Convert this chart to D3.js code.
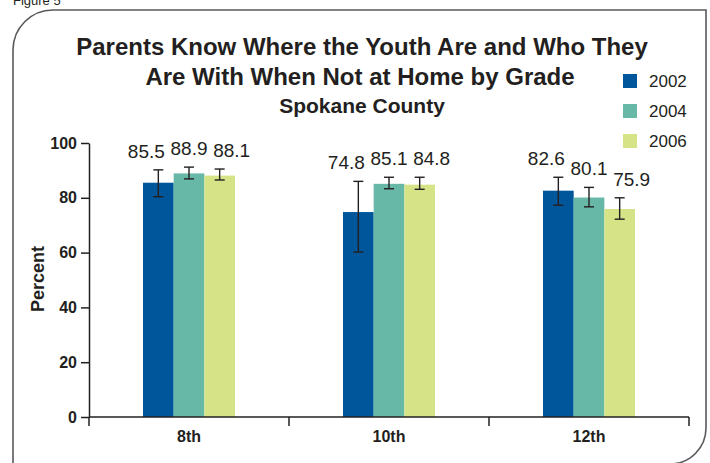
<!DOCTYPE html>
<html>
<head>
<meta charset="utf-8">
<script src="https://cdn.jsdelivr.net/npm/d3@7"></script>
<style>
  body { margin: 0; background: #fff; }
  text { font-family: "Liberation Sans", Arial, sans-serif; fill: #231f20; }
</style>
</head>
<body>
<div id="myChart"></div>
<script>
// data
var grades = ["8th", "10th", "12th"];
var years = ["2002", "2004", "2006"];
var values2002 = [85.5, 74.8, 82.6];
var values2004 = [88.9, 85.1, 80.1];
var values2006 = [88.1, 84.8, 75.9];
// error bar ends (low / high)
var low2002 = [80.4, 60.2, 77.3];
var high2002 = [90.2, 86.0, 87.5];
var low2004 = [86.9, 83.3, 76.7];
var high2004 = [91.2, 87.5, 83.8];
var low2006 = [86.5, 83.1, 72.2];
var high2006 = [90.5, 87.5, 80.0];
var yTicks = [0, 20, 40, 60, 80, 100];
var colors = ["#00569a", "#67b8a7", "#d6e387"];

var width = 710, height = 463;

var svg = d3.select("#myChart")
  .append("svg")
    .attr("width", width)
    .attr("height", height);

// frame with rounded corners (top-left, bottom-right)
svg.append("path")
  .attr("d", "M13,470 L13,50 A40,40 0 0 1 53,10 L706,10 L706,428 A36,36 0 0 1 670,464")
  .attr("fill", "none")
  .attr("stroke", "#58595b")
  .attr("stroke-width", 1.6);

// figure label, mostly cropped at top like the original
svg.append("text")
  .attr("x", 13)
  .attr("y", 5)
  .attr("font-size", "13px")
  .text("Figure 5");

// titles
svg.append("text")
  .attr("x", 362).attr("y", 55)
  .attr("text-anchor", "middle")
  .attr("font-size", "24px")
  .attr("font-weight", "bold")
  .text("Parents Know Where the Youth Are and Who They");
svg.append("text")
  .attr("x", 360).attr("y", 85)
  .attr("text-anchor", "middle")
  .attr("font-size", "24px")
  .attr("font-weight", "bold")
  .text("Are With When Not at Home by Grade");
svg.append("text")
  .attr("x", 362).attr("y", 113)
  .attr("text-anchor", "middle")
  .attr("font-size", "21px")
  .attr("font-weight", "bold")
  .text("Spokane County");

// scales
var y = d3.scaleLinear()
  .domain([0, 100])
  .range([417, 143]);

var x = d3.scaleBand()
  .domain(grades)
  .range([89, 689])
  .padding(0);

var bw = x.bandwidth();
var xInner = d3.scaleBand()
  .domain(years)
  .range([bw / 2 - 46, bw / 2 + 46]);

// y axis
var yAxis = svg.append("g")
  .attr("transform", "translate(89,0)")
  .call(d3.axisLeft(y)
    .tickValues(yTicks)
    .tickSize(8)
    .tickSizeOuter(0)
    .tickPadding(4));
yAxis.selectAll("text")
  .attr("font-size", "16px")
  .attr("font-weight", "bold")
  .attr("fill", "#231f20")
  .style("font-family", "'Liberation Sans', Arial, sans-serif");
yAxis.selectAll("line, path")
  .attr("stroke", "#231f20")
  .attr("stroke-width", 1.5);

// y axis title
svg.append("text")
  .attr("transform", "translate(44,279) rotate(-90)")
  .attr("text-anchor", "middle")
  .attr("font-size", "18px")
  .attr("font-weight", "bold")
  .text("Percent");

// grouped bars
var rows = grades.map(function(g, i) {
  return {
    grade: g,
    items: [
      {year: years[0], value: values2002[i], lo: low2002[i], hi: high2002[i], c: colors[0], k: 0},
      {year: years[1], value: values2004[i], lo: low2004[i], hi: high2004[i], c: colors[1], k: 1},
      {year: years[2], value: values2006[i], lo: low2006[i], hi: high2006[i], c: colors[2], k: 2}
    ]
  };
});

var groups = svg.selectAll("g.grade")
  .data(rows)
  .enter()
  .append("g")
    .attr("class", "grade")
    .attr("transform", function(d) { return "translate(" + x(d.grade) + ",0)"; });

groups.selectAll("rect")
  .data(function(d) { return d.items; })
  .enter()
  .append("rect")
    .attr("x", function(d) { return xInner(d.year); })
    .attr("y", function(d) { return y(d.value); })
    .attr("width", xInner.bandwidth())
    .attr("height", function(d) { return y(0) - y(d.value); })
    .attr("fill", function(d) { return d.c; });

// error bars
var err = groups.selectAll("g.err")
  .data(function(d) { return d.items; })
  .enter()
  .append("g")
    .attr("class", "err")
    .attr("stroke", "#231f20")
    .attr("stroke-width", 1.4);

err.append("line")
  .attr("x1", function(d) { return xInner(d.year) + xInner.bandwidth() / 2; })
  .attr("x2", function(d) { return xInner(d.year) + xInner.bandwidth() / 2; })
  .attr("y1", function(d) { return y(d.lo); })
  .attr("y2", function(d) { return y(d.hi); });
err.append("line")
  .attr("x1", function(d) { return xInner(d.year) + xInner.bandwidth() / 2 - 5; })
  .attr("x2", function(d) { return xInner(d.year) + xInner.bandwidth() / 2 + 5; })
  .attr("y1", function(d) { return y(d.hi); })
  .attr("y2", function(d) { return y(d.hi); });
err.append("line")
  .attr("x1", function(d) { return xInner(d.year) + xInner.bandwidth() / 2 - 5; })
  .attr("x2", function(d) { return xInner(d.year) + xInner.bandwidth() / 2 + 5; })
  .attr("y1", function(d) { return y(d.lo); })
  .attr("y2", function(d) { return y(d.lo); });

// value labels (spread a little sideways like the original)
var spread = [-12, 0, 12];
groups.selectAll("text.val")
  .data(function(d) { return d.items; })
  .enter()
  .append("text")
    .attr("class", "val")
    .attr("x", function(d) { return xInner(d.year) + xInner.bandwidth() / 2 + spread[d.k]; })
    .attr("y", function(d) { return y(d.hi) - 12; })
    .attr("text-anchor", "middle")
    .attr("font-size", "19px")
    .text(function(d) { return d.value.toFixed(1); });

// x axis line with ticks at group boundaries
svg.append("line")
  .attr("x1", 89).attr("x2", 689)
  .attr("y1", y(0)).attr("y2", y(0))
  .attr("stroke", "#231f20")
  .attr("stroke-width", 1.5);

var bounds = grades.map(function(g) { return x(g); }).concat([x(grades[grades.length - 1]) + bw]);
svg.selectAll("line.xtick")
  .data(bounds)
  .enter()
  .append("line")
    .attr("class", "xtick")
    .attr("x1", function(d) { return d; })
    .attr("x2", function(d) { return d; })
    .attr("y1", y(0))
    .attr("y2", y(0) + 9)
    .attr("stroke", "#231f20")
    .attr("stroke-width", 1.5);

svg.selectAll("text.xlab")
  .data(grades)
  .enter()
  .append("text")
    .attr("class", "xlab")
    .attr("x", function(d) { return x(d) + bw / 2; })
    .attr("y", 442)
    .attr("text-anchor", "middle")
    .attr("font-size", "16px")
    .attr("font-weight", "bold")
    .text(function(d) { return d; });

// legend
var legend = svg.selectAll("g.legend")
  .data(years)
  .enter()
  .append("g")
    .attr("class", "legend")
    .attr("transform", function(d, i) { return "translate(623," + (74 + i * 30) + ")"; });

legend.append("rect")
  .attr("width", 14)
  .attr("height", 14)
  .attr("fill", function(d, i) { return colors[i]; });

legend.append("text")
  .attr("x", 26)
  .attr("y", 13)
  .attr("font-size", "17px")
  .text(function(d) { return d; });
</script>
</body>
</html>
